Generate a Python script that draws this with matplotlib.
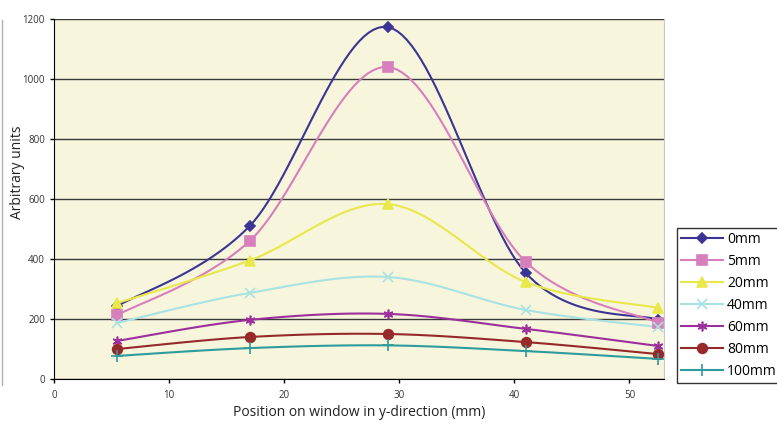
import numpy as np
import matplotlib.pyplot as plt
from matplotlib.lines import Line2D

plt.rcParams['font.family'] = ['Open Sans', 'DejaVu Sans']

positions = [5.5, 17, 29, 41, 52.5]
labels = ["0mm", "5mm", "20mm", "40mm", "60mm", "80mm", "100mm"]
series = [
    [243, 510, 1173, 353, 197],
    [213, 460, 1040, 390, 187],
    [253, 395, 583, 323, 237],
    [187, 287, 340, 230, 173],
    [127, 197, 217, 167, 110],
    [100, 140, 150, 123, 83],
    [77, 103, 112, 93, 67],
]
colors = ["#3b3494", "#d77fbd", "#e9e84a", "#a9e2e2", "#9c2f9c", "#962a2a", "#2e9c9c"]
markers = ["D", "s", "^", "x", (6, 2, 0), "o", "+"]
msizes = [5, 7, 7, 7, 7, 7, 8]


def smooth(x, y, n=30):
    # Excel-like smoothing: cubic Bezier with Catmull-Rom control points
    x = np.asarray(x, float)
    y = np.asarray(y, float)
    px = np.concatenate([[x[0]], x, [x[-1]]])
    py = np.concatenate([[y[0]], y, [y[-1]]])
    xs, ys = [], []
    t = np.linspace(0, 1, n)
    for i in range(len(x) - 1):
        p0 = np.array([px[i + 1], py[i + 1]])
        p3 = np.array([px[i + 2], py[i + 2]])
        p1 = p0 + (np.array([px[i + 2], py[i + 2]]) - np.array([px[i], py[i]])) / 6
        p2 = p3 - (np.array([px[i + 3], py[i + 3]]) - np.array([px[i + 1], py[i + 1]])) / 6
        b = ((1 - t) ** 3)[:, None] * p0 + (3 * (1 - t) ** 2 * t)[:, None] * p1 \
            + (3 * (1 - t) * t ** 2)[:, None] * p2 + (t ** 3)[:, None] * p3
        xs.extend(b[:, 0])
        ys.extend(b[:, 1])
    return xs, ys


fig = plt.figure(figsize=(7.77, 4.25), dpi=100)
ax = fig.add_axes([54 / 777, 46 / 425, 610 / 777, 360 / 425])
ax.set_facecolor("#f7f5dc")

handles = []
for vals, c, m, ms, lab in zip(series, colors, markers, msizes, labels):
    sx, sy = smooth(positions, vals)
    ax.plot(sx, sy, color=c, lw=1.5, zorder=3)
    ax.plot(positions, vals, ls="none", marker=m, ms=ms, color=c,
            markeredgecolor=c, mew=1.2, zorder=4, clip_on=False)
    handles.append(Line2D([], [], color=c, lw=1.5, marker=m, ms=ms,
                          markeredgecolor=c, mew=1.2, label=lab))

ax.set_xlim(0, 53)
ax.set_ylim(0, 1200)
ax.set_xticks(range(0, 51, 10))
ax.set_yticks(range(0, 1201, 200))
ax.yaxis.grid(True, color="#3a3a3a", lw=1)
ax.set_axisbelow(True)
ax.spines["top"].set_visible(False)
ax.spines["right"].set_color("#c8c8c8")
ax.spines["left"].set_color("black")
ax.spines["bottom"].set_color("black")
ax.tick_params(axis="both", labelsize=7, colors="black", labelcolor="#333333",
               direction="out", length=3, width=1)
ax.tick_params(axis="x", pad=5)

fig.text(359 / 777, 1 - 413 / 425, "Position on window in y-direction (mm)",
         fontsize=10, color="#222222", ha="center", va="center")
fig.text(18 / 777, 1 - 172 / 425, "Arbitrary units", fontsize=10, color="#222222",
         ha="center", va="center", rotation=90)

leg = fig.legend(handles=handles, loc="upper left", bbox_to_anchor=(677 / 777, 197 / 425),
                 fontsize=10, frameon=True, fancybox=False, handlelength=3.0,
                 borderpad=0.3, labelspacing=0.5, handletextpad=0.3, borderaxespad=0)
leg.get_frame().set_edgecolor("black")
leg.get_frame().set_linewidth(1)

fig.add_artist(Line2D([2 / 777, 2 / 777], [40 / 425, 405 / 425], color="#b0b0b0", lw=1))

fig.savefig("out.png", dpi=100)
